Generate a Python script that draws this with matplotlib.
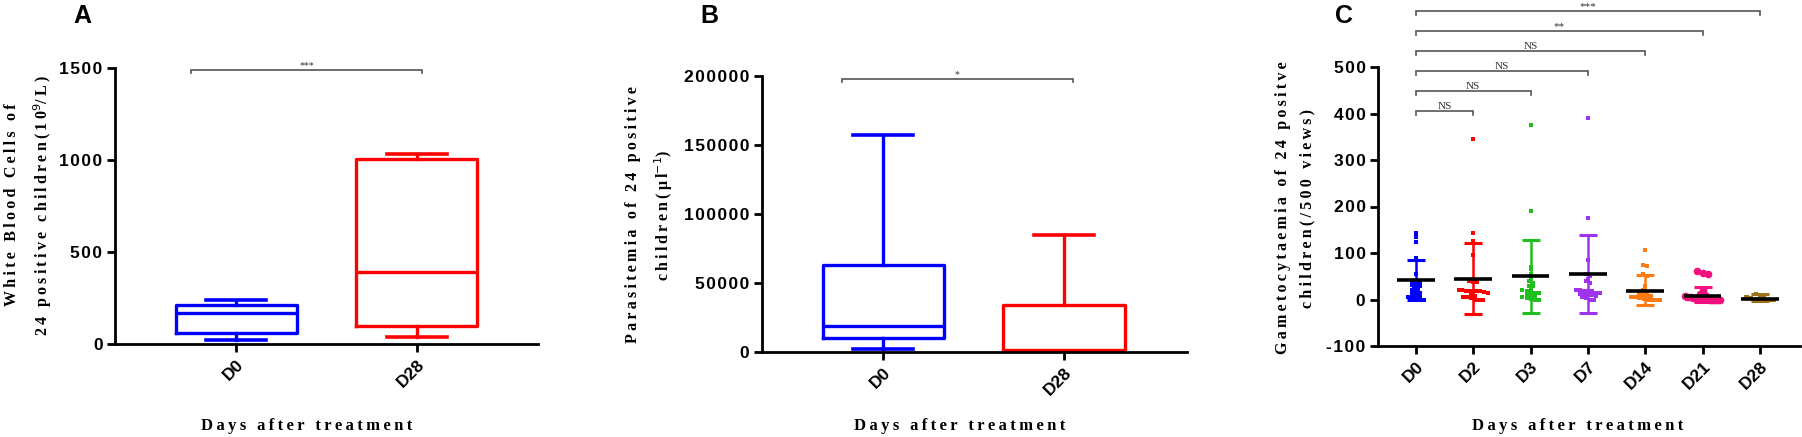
import matplotlib
matplotlib.use('Agg')
import matplotlib.pyplot as plt
import numpy as np

# ---- data ----
days_ab = ['D0', 'D28']
box_colors = ['#0000ff', '#ff0000']

# panel A: white blood cells (10^9/L)
wbc_whislo = [22, 36]
wbc_q1 = [62, 100]
wbc_med = [170, 393]
wbc_q3 = [212, 1006]
wbc_whishi = [239, 1035]
wbc_ticks = [0, 500, 1000, 1500]

# panel B: parasitemia (per ul)
par_whislo = [2400, 0]
par_q1 = [10100, 800]
par_med = [18600, 1500]
par_q3 = [63200, 34300]
par_whishi = [156900, 85000]
par_ticks = [0, 50000, 100000, 150000, 200000]

# panel C: gametocytaemia per 500 views
days_c = ['D0', 'D2', 'D3', 'D7', 'D14', 'D21', 'D28']
c_colors = ['#0000ff', '#ff0000', '#1fbf1f', '#a033ee', '#ff7a10', '#f2107e', '#a07018']
gam = [
    [143, 135, 123, 89, 54, 40, 38, 35, 32, 30, 28, 25, 22, 20, 18, 15, 12, 10, 8, 5, 3, 2, 0, 0],
    [345, 143, 125, 95, 40, 37, 37, 20, 20, 19, 19, 18, 18, 18, 17, 15, 12, 8, 5, 5, 3, 0, 0, 0],
    [375, 190, 70, 65, 55, 48, 40, 35, 30, 28, 22, 20, 18, 18, 15, 15, 12, 10, 8, 5, 3, 2, 0, 0],
    [390, 175, 85, 55, 50, 45, 40, 35, 20, 20, 18, 18, 18, 15, 15, 12, 12, 10, 10, 8, 5, 3, 0, 0],
    [107, 75, 72, 55, 50, 30, 20, 15, 12, 10, 8, 8, 5, 5, 5, 3, 3, 2, 2, 0, 0, 0, 0, 0],
    [62, 58, 55, 20, 12, 10, 8, 6, 5, 5, 4, 3, 3, 2, 2, 2, 1, 1, 0, 0, 0, 0, 0, 0],
    [12, 10, 8, 6, 5, 4, 3, 3, 2, 2, 2, 1, 1, 1, 0, 0, 0, 0, 0, 0, 0, 0, 0, 0],
]
c_mean = [42, 44.5, 50, 54, 19, 7, 2]
c_sd_hi = [84, 121, 129, 138, 52, 27, 12]
c_sd_lo = [0, -31, -29, -29, -11, -5, -3]
c_ticks = [-100, 0, 100, 200, 300, 400, 500]
c_compare = [(0, 1, 'NS'), (0, 2, 'NS'), (0, 3, 'NS'), (0, 4, 'NS'), (0, 5, '**'), (0, 6, '***')]

SANS = ['Liberation Sans', 'DejaVu Sans']
SERIF = ['Liberation Serif', 'DejaVu Serif']


def track(s, sp='\u2009'):
    return sp.join(s)


def style_axes(ax, yticks):
    for side in ['top', 'right']:
        ax.spines[side].set_visible(False)
    for side in ['left', 'bottom']:
        ax.spines[side].set_linewidth(2)
    ax.tick_params(direction='out', length=6, width=2, pad=3)
    ax.set_yticks(yticks)
    ax.set_yticklabels([track(str(v), '\u200a') for v in yticks],
                       fontfamily=SANS, fontweight='bold', fontsize=12.5)


def set_xcats(ax, cats):
    ax.set_xticks(np.arange(len(cats)))
    ax.set_xticklabels(cats, rotation=45, ha='right', rotation_mode='anchor',
                       fontfamily=SANS, fontweight='bold', fontsize=12.5)


def box_stats(lo, q1, med, q3, hi):
    return [dict(whislo=lo[i], q1=q1[i], med=med[i], q3=q3[i], whishi=hi[i], fliers=[])
            for i in range(len(med))]


def draw_boxes(ax, stats):
    for i, st in enumerate(stats):
        c = box_colors[i]
        ax.bxp([st], positions=[i], widths=0.67, capwidths=0.33, showfliers=False,
               boxprops=dict(color=c, linewidth=2.4),
               whiskerprops=dict(color=c, linewidth=2.4),
               capprops=dict(color=c, linewidth=2.6),
               medianprops=dict(color=c, linewidth=2.4))


def bracket(ax, x0, x1, y, drop, text, fs=8, clip=True):
    ax.plot([x0, x0, x1, x1], [y - drop, y, y, y - drop], color='#555555', lw=1.2,
            clip_on=clip, solid_joinstyle='miter')
    ax.text((x0 + x1) / 2, y, text, ha='center', va='bottom', fontsize=fs,
            fontfamily=SERIF, color='#333333', clip_on=False)


def swarm_offsets(vals, bin_size, step, half_width):
    vals = np.asarray(vals, dtype=float)
    bins = np.floor(vals / bin_size)
    offs = np.zeros(len(vals))
    for b in np.unique(bins):
        idx = np.where(bins == b)[0]
        n = len(idx)
        st = step if n < 2 else min(step, 2 * half_width / (n - 1))
        offs[idx] = (np.arange(n) - (n - 1) / 2) * st
    return offs


W, H = 1802, 437
fig = plt.figure(figsize=(W / 100, H / 100), dpi=100)


def px_axes(left, top, right, bottom):
    return fig.add_axes([left / W, 1 - bottom / H, (right - left) / W, (bottom - top) / H])


axA = px_axes(115, 68, 538, 344)
axB = px_axes(762, 76, 1187, 352)
axC = px_axes(1378, 67, 1800, 346)

# ---- panel A ----
draw_boxes(axA, box_stats(wbc_whislo, wbc_q1, wbc_med, wbc_q3, wbc_whishi))
axA.set_xlim(-0.67, 1.67)
axA.set_ylim(0, 1500)
set_xcats(axA, days_ab)
style_axes(axA, wbc_ticks)
bracket(axA, -0.25, 1.03, 1489, 18, '***', fs=7, clip=False)

# ---- panel B ----
draw_boxes(axB, box_stats(par_whislo, par_q1, par_med, par_q3, par_whishi))
axB.set_xlim(-0.67, 1.68)
axB.set_ylim(0, 200000)
set_xcats(axB, days_ab)
style_axes(axB, par_ticks)
bracket(axB, -0.23, 1.05, 197800, 2500, '*', fs=7, clip=False)

# ---- panel C ----
for i, vals in enumerate(gam):
    big = days_c[i] == 'D21'
    offs = swarm_offsets(vals, 9 if big else 7, 0.09 if big else 0.07, 0.3 if big else 0.25)
    axC.scatter(i + offs, vals, s=30 if big else 7, color=c_colors[i], marker='o' if big else 's',
                linewidths=0, zorder=2)
    axC.errorbar(i, c_mean[i], yerr=[[c_mean[i] - c_sd_lo[i]], [c_sd_hi[i] - c_mean[i]]],
                 color=c_colors[i], lw=1.8, capsize=6.5, capthick=2.2, zorder=3)
    axC.hlines(c_mean[i], i - 0.33, i + 0.33, color='black', lw=2.6, zorder=4)
axC.set_xlim(-0.66, 6.7)
axC.set_ylim(-100, 500)
set_xcats(axC, days_c)
style_axes(axC, c_ticks)
for k, (a, b, lab) in enumerate(c_compare):
    bracket(axC, a, b, 405 + 43 * k, 8, lab, fs=8, clip=False)

# ---- labels ----
ylab_kw = dict(rotation=90, ha='center', va='center', multialignment='center',
               fontfamily=SERIF, fontweight='bold', fontsize=11.5, linespacing=1.7)
fig.text(29 / W, 1 - 205 / H,
         track('White Blood Cells of') + '\n' + track('24 positive children(10') + '$^{9}$' + track('/L)'),
         **ylab_kw)
fig.text(650 / W, 1 - 215 / H,
         track('Parasitemia of 24 positive') + '\n' + track('children(\u03bcl') + '$^{-1}$' + ')',
         **ylab_kw)
fig.text(1295 / W, 1 - 208 / H,
         track('Gametocytaemia of 24 positve') + '\n' + track('children(/500 views)'),
         **ylab_kw)

xlab_kw = dict(ha='center', va='center', fontfamily=SERIF, fontweight='bold', fontsize=12)
for xc in [307, 960, 1578]:
    fig.text(xc / W, 1 - 426 / H, track('Days after treatment'), **xlab_kw)

for letter, xl in [('A', 73), ('B', 700), ('C', 1335)]:
    fig.text(xl / W, 1 - 16 / H, letter, ha='left', va='center', fontfamily=SANS,
             fontweight='bold', fontsize=18)

fig.savefig('out.png', dpi=100)
